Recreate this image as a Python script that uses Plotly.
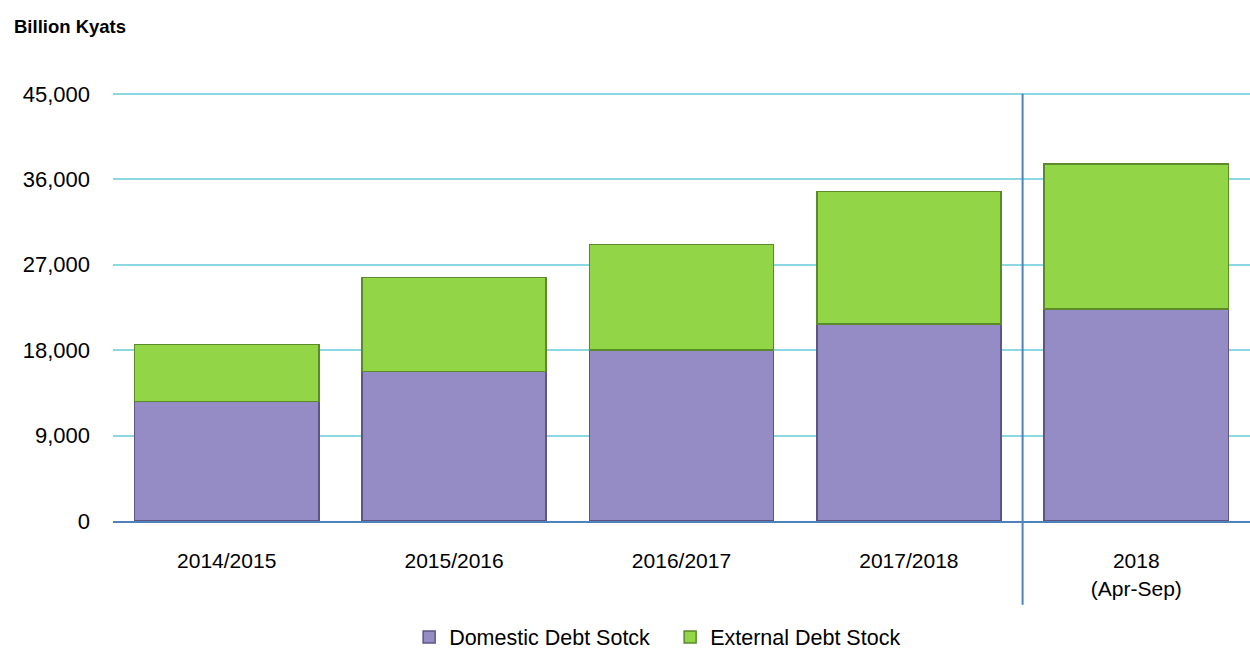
import plotly.graph_objects as go

# Debt stock by fiscal period, billion kyats
periods = ["2014/2015", "2015/2016", "2016/2017", "2017/2018", "2018<br>(Apr-Sep)"]
domestic = [12570, 15730, 18020, 20760, 22340]
external = [6050, 9910, 11100, 13940, 15250]

y_ticks = [0, 9000, 18000, 27000, 36000, 45000]
y_tick_text = ["0", "9,000", "18,000", "27,000", "36,000", "45,000"]

FONT = "Arial, Liberation Sans, sans-serif"

fig = go.Figure()
fig.add_trace(go.Bar(
    name="Domestic Debt Sotck", x=periods, y=domestic,
    marker=dict(color="#958BC5", line=dict(color="#5E5585", width=1.5)),
))
fig.add_trace(go.Bar(
    name="External Debt Stock", x=periods, y=external,
    marker=dict(color="#92D647", line=dict(color="#5A8A2A", width=1.5)),
))

# divider between full fiscal years and the half-year period
fig.add_shape(type="line", xref="x", yref="paper", x0=3.5, x1=3.5,
              y0=-0.195, y1=0.9934, line=dict(color="#4F81BD", width=2), layer="above")

fig.update_layout(
    barmode="stack",
    bargap=0.19,
    width=1250, height=653,
    margin=dict(l=113, r=0, t=91, b=132, autoexpand=False),
    paper_bgcolor="white", plot_bgcolor="white",
    font=dict(family=FONT, size=21, color="#000000"),
    showlegend=True,
    legend=dict(orientation="h", x=0.490, xanchor="center",
                yref="container", y=0.0245, yanchor="middle",
                font=dict(size=21.5), itemwidth=30, entrywidth=216,
                traceorder="normal"),
    annotations=[dict(text="<b>Billion Kyats</b>", xref="paper", yref="paper",
                      x=-0.089, y=1.151, xanchor="left", yanchor="middle",
                      showarrow=False, font=dict(size=18.5, family=FONT))],
)
fig.update_yaxes(range=[0, 45300], tickvals=y_ticks, ticktext=y_tick_text,
                 tickfont=dict(size=22), automargin=False,
                 showgrid=True, gridcolor="#8CD8E2", gridwidth=2,
                 zeroline=False, ticks="", ticklabelstandoff=22, fixedrange=True)
fig.update_xaxes(showline=True, linecolor="#4F81BD", linewidth=2, ticks="",
                 tickfont=dict(size=21), automargin=False,
                 ticklabelstandoff=20, showgrid=False)

fig.write_html("out.html")
